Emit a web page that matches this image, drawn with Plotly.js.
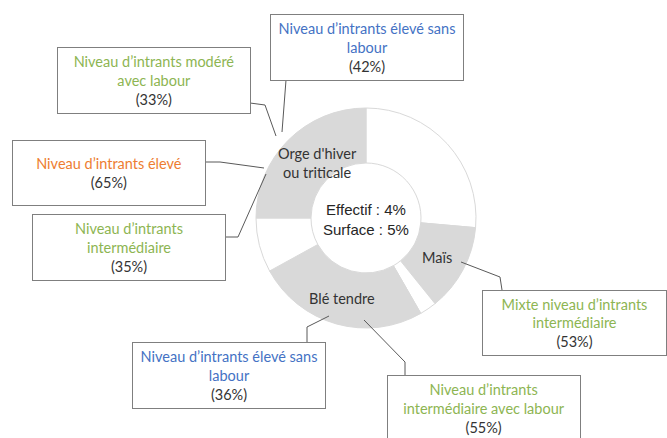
<!DOCTYPE html>
<html>
<head>
<meta charset="utf-8">
<script src="https://cdn.plot.ly/plotly-3.0.1.min.js"></script>
<style>
  body { margin: 0; background: #fff; }
  #chart { width: 667px; height: 438px; }
</style>
</head>
<body>
<div id="chart"></div>
<script>
// ring slices, clockwise from 12 o'clock (white = other crops)
const sliceValues = [26.4, 12.8, 2.5, 25.3, 8.0, 25.0];
const sliceColors = ["#ffffff", "#d9d9d9", "#ffffff", "#d9d9d9", "#ffffff", "#d9d9d9"];
const sliceNames = ["", "Maïs", "", "Blé tendre", "", "Orge d'hiver<br>ou triticale"];

// callouts
const calloutTexts = [
    "Niveau d’intrants élevé sans<br>labour",
    "Niveau d’intrants modéré<br>avec labour",
    "Niveau d’intrants élevé",
    "Niveau d’intrants<br>intermédiaire",
    "Mixte niveau d’intrants<br>intermédiaire",
    "Niveau d’intrants élevé sans<br>labour",
    "Niveau d’intrants<br>intermédiaire avec labour"
];
const calloutShares = ["42%", "33%", "65%", "35%", "53%", "36%", "55%"];
const calloutColors = ["#4472c4", "#8db552", "#ed7d31", "#8db552", "#8db552", "#4472c4", "#8db552"];

const centerText = "Effectif : 4%<br>Surface : 5%";

const W = 667, H = 438;
function px(x) { return x / W; }
function py(y) { return 1 - y / H; }

// donut placement (pixels)
const cx = 366, cy = 218, r = 110;

// box geometry: left, top, width, height (pixels)
const boxes = [
    [270, 14, 193, 66],
    [57, 47, 193, 66],
    [12, 140, 193, 65],
    [32, 214, 193, 66],
    [482, 290, 184, 65],
    [133, 342, 193, 66],
    [387, 375, 193, 66]
];
// leader lines (pixels)
const leaders = [
    [[286, 80], [282, 132]],
    [[250, 103], [265, 105], [276, 136]],
    [[205, 162], [220, 162], [264, 168]],
    [[225, 237], [238, 237], [266, 174]],
    [[461, 262], [500, 277], [502, 290]],
    [[307, 342], [307, 327], [329, 316]],
    [[405, 375], [405, 362], [364, 320]]
];

// slice label positions (pixels)
const namePos = [null, [437, 257], null, [342, 298], null, [317, 163]];

let data = [
    {
        type: "pie",
        values: sliceValues,
        marker: { colors: sliceColors, line: { color: "#d9d9d9", width: 1 } },
        hole: 0.5,
        sort: false,
        direction: "clockwise",
        rotation: 0,
        textinfo: "none",
        hoverinfo: "skip",
        showlegend: false,
        domain: { x: [px(cx - r), px(cx + r)], y: [py(cy + r), py(cy - r)] }
    }
];

let annotations = [];
let shapes = [];

annotations.push({
    xref: "paper", yref: "paper", x: px(cx), y: py(cy + 1),
    text: centerText, showarrow: false,
    font: { family: "Liberation Sans, Arial", size: 15, color: "#262626" },
    align: "center", xanchor: "center", yanchor: "middle"
});

sliceNames.forEach(function (name, i) {
    if (!name) return;
    annotations.push({
        xref: "paper", yref: "paper", x: px(namePos[i][0]), y: py(namePos[i][1]),
        text: name, showarrow: false,
        font: { family: "Lato, Open Sans", size: 14.5, color: "#333333" },
        align: "center", xanchor: "center", yanchor: "middle"
    });
});

calloutTexts.forEach(function (t, i) {
    let b = boxes[i];
    annotations.push({
        xref: "paper", yref: "paper",
        x: px(b[0] + b[2] / 2), y: py(b[1] + b[3] / 2),
        xanchor: "center", yanchor: "middle",
        width: b[2] - 3, height: b[3] - 3,
        borderpad: 1, borderwidth: 1, bordercolor: "#7f7f7f", bgcolor: "#ffffff",
        showarrow: false, align: "center", valign: "middle",
        text: '<span style="color:' + calloutColors[i] + '">' + t + "</span><br>(" + calloutShares[i] + ")",
        font: { family: "Lato, Open Sans", size: 14.5, color: "#333333" }
    });
    let pts = leaders[i];
    let path = pts.map(function (p, k) {
        return (k === 0 ? "M " : "L ") + px(p[0]) + "," + py(p[1]);
    }).join(" ");
    shapes.push({
        type: "path", xref: "paper", yref: "paper", path: path,
        line: { color: "#595959", width: 1 }
    });
});

let layout = {
    width: W,
    height: H,
    margin: { l: 0, r: 0, t: 0, b: 0 },
    paper_bgcolor: "#ffffff",
    plot_bgcolor: "#ffffff",
    showlegend: false,
    annotations: annotations,
    shapes: shapes
};

Plotly.newPlot("chart", data, layout, { displayModeBar: false, staticPlot: true });
</script>
</body>
</html>
